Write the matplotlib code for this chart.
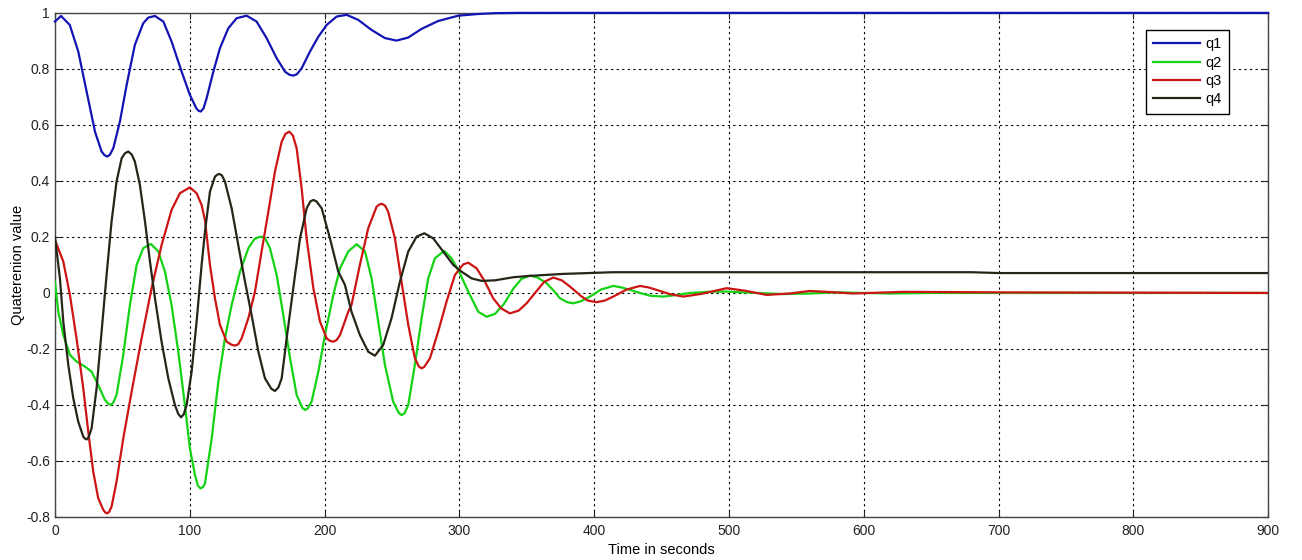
import matplotlib
matplotlib.use("Agg")
import matplotlib.pyplot as plt

# ---- data ----
t1 = [0, 4.5, 11, 17.3, 23.5, 29.7, 34.6, 36.8, 38.8, 40.8, 43.3, 48.2, 53.2, 59.3, 65.5, 69.2, 74.2, 80.4, 86.5,
      94, 100.1, 105, 106.7, 108.3, 110.3, 112.5, 117.5, 122.4, 128.6, 134.8, 142.2, 149.6, 157, 164.5, 170.7,
      174, 176.8, 179.5, 183, 189.2, 195.4, 201.6, 209, 216.4, 225, 234.9, 244.8, 253.4, 262.1, 272, 284.3, 299.2,
      314, 326.4, 345, 900]
q1 = [0.969, 0.989, 0.957, 0.862, 0.719, 0.576, 0.505, 0.492, 0.487, 0.494, 0.517, 0.612, 0.743, 0.886, 0.963,
      0.983, 0.989, 0.969, 0.898, 0.79, 0.707, 0.658, 0.650, 0.648, 0.660, 0.695, 0.79, 0.874, 0.945, 0.981, 0.99,
      0.969, 0.91, 0.838, 0.79, 0.779, 0.776, 0.781, 0.802, 0.862, 0.915, 0.957, 0.987, 0.993, 0.975, 0.939, 0.91,
      0.901, 0.912, 0.943, 0.971, 0.99, 0.996, 0.999, 1.0, 1.0]

t2 = [0, 2.5, 6.2, 11.1, 16, 22.3, 27.2, 32.1, 37.1, 39.5, 41.3, 43.2, 45.7, 50.7, 55.6, 60.6, 65.5, 71.2, 76.7,
      81.6, 86.5, 91.5, 96.4, 100.1, 103.9, 106, 108, 109.8, 111.3, 116.3, 121.2, 126.1, 131.1, 137.3, 143.5, 148,
      151, 153.3, 155.8, 159.5, 164.5, 169.4, 174.4, 179.3, 183.5, 185.5, 187.5, 190.4, 195.4, 200.3, 206.5, 211.5,
      217.6, 223.8, 230, 234.9, 239.8, 244.8, 250.9, 255, 257.1, 259.3, 262.1, 267, 272, 276.9, 281.9, 288.8, 294.2,
      300.4, 306.6, 314, 320.2, 326.4, 333, 340, 346, 352.4, 358, 364.7, 370, 374.6, 380, 384.5, 390, 396.9, 405,
      414.2, 420, 426.5, 434, 441.4, 451.3, 460, 471, 485, 498, 520, 540, 560, 580, 600, 620, 650, 700, 900]
q2 = [0.04, -0.067, -0.15, -0.221, -0.245, -0.263, -0.281, -0.329, -0.382, -0.395, -0.4, -0.392, -0.364, -0.221,
      -0.043, 0.1, 0.16, 0.175, 0.148, 0.076, -0.043, -0.21, -0.4, -0.555, -0.65, -0.688, -0.698, -0.693, -0.68,
      -0.519, -0.317, -0.162, -0.043, 0.076, 0.16, 0.192, 0.199, 0.201, 0.196, 0.16, 0.064, -0.079, -0.233, -0.364,
      -0.41, -0.418, -0.412, -0.388, -0.281, -0.15, -0.007, 0.088, 0.148, 0.174, 0.148, 0.052, -0.102, -0.257,
      -0.388, -0.428, -0.436, -0.43, -0.4, -0.257, -0.09, 0.052, 0.124, 0.15, 0.124, 0.07, 0.005, -0.067, -0.085,
      -0.075, -0.04, 0.015, 0.05, 0.062, 0.055, 0.035, 0.008, -0.019, -0.033, -0.037, -0.03, -0.013, 0.012, 0.025,
      0.02, 0.011, 0.0, -0.01, -0.013, -0.008, 0.0, 0.004, 0.005, 0.0, -0.004, -0.002, 0.002, 0.0, -0.002, 0.0,
      0.0, 0.0]

t3 = [0, 6.2, 11.1, 16, 21, 24.7, 28.4, 32.1, 35.9, 37.4, 38.8, 40.3, 42, 45.7, 50.7, 56.9, 64.3, 71.7, 79.1, 86.5,
      92.7, 100.1, 105.1, 108.8, 111.3, 115, 118.7, 122.4, 127.4, 131, 133.6, 136, 138.5, 143.5, 148.4, 153.3, 158.3,
      163.2, 168.2, 171, 173.9, 176.5, 179.3, 183, 186.7, 191.7, 196.6, 201.6, 204, 206.5, 209, 211.5, 217.6, 220,
      226.2, 232.4, 238.6, 240.7, 242.8, 245, 247.2, 252.2, 257.1, 262.1, 267, 270, 272, 274, 278.2, 284.3, 290.5,
      296.7, 302.9, 306.6, 312.8, 319, 325.1, 331, 337.5, 344, 349.9, 357, 363, 369.7, 376, 382, 390, 395, 401.8,
      408, 414.2, 424, 434, 440, 446.3, 456, 466.1, 480, 498.3, 512, 528, 545, 560, 576, 592, 630, 700, 900]
q3 = [0.189, 0.112, -0.007, -0.162, -0.34, -0.495, -0.638, -0.733, -0.775, -0.784, -0.787, -0.781, -0.763, -0.674,
      -0.519, -0.352, -0.162, 0.017, 0.171, 0.296, 0.356, 0.377, 0.356, 0.314, 0.26, 0.1, -0.019, -0.114, -0.174,
      -0.185, -0.188, -0.183, -0.162, -0.09, 0.005, 0.148, 0.29, 0.433, 0.54, 0.568, 0.576, 0.562, 0.517, 0.374,
      0.195, 0.017, -0.102, -0.162, -0.171, -0.174, -0.168, -0.15, -0.067, -0.043, 0.1, 0.231, 0.308, 0.316, 0.318,
      0.311, 0.29, 0.195, 0.04, -0.114, -0.233, -0.263, -0.269, -0.264, -0.233, -0.138, -0.031, 0.064, 0.102, 0.108,
      0.088, 0.04, -0.019, -0.055, -0.073, -0.063, -0.037, 0.005, 0.04, 0.055, 0.045, 0.023, -0.01, -0.027, -0.033,
      -0.027, -0.013, 0.012, 0.025, 0.02, 0.011, -0.004, -0.013, -0.003, 0.017, 0.008, -0.007, -0.002, 0.007, 0.003,
      -0.002, 0.004, 0.002, 0.0]

t4 = [0, 3.7, 6.2, 9.9, 13.6, 17.3, 21, 22.2, 23.5, 25, 27.2, 30.9, 34.6, 38.3, 42, 45.7, 49.5, 52, 54.4, 57, 59.3,
      63, 66.8, 70.5, 74.2, 79.1, 84.1, 89, 91.5, 93.5, 95.5, 97.7, 101.4, 105.1, 108.8, 111.3, 115, 118.7, 120.3,
      121.9, 123.8, 126.1, 131.1, 136, 141, 145.9, 150.9, 155.8, 160.5, 163.2, 165.7, 168.2, 171.9, 176.8, 181.8,
      186.7, 189.5, 191.7, 194, 197.9, 204, 210.2, 215.1, 220, 226.2, 232.4, 237.4, 243.5, 249.7, 255.9, 262.1,
      268.3, 274, 280.6, 288, 295.5, 301.6, 309.1, 316.5, 326.4, 340, 352.4, 377, 414, 680, 700, 900]
q4 = [0.2, 0.052, -0.102, -0.257, -0.376, -0.46, -0.513, -0.52, -0.523, -0.515, -0.483, -0.34, -0.138, 0.064, 0.255,
      0.398, 0.481, 0.499, 0.505, 0.494, 0.469, 0.386, 0.255, 0.112, -0.019, -0.174, -0.305, -0.4, -0.432, -0.444,
      -0.434, -0.4, -0.281, -0.102, 0.1, 0.219, 0.362, 0.415, 0.422, 0.425, 0.42, 0.398, 0.302, 0.171, 0.04, -0.079,
      -0.21, -0.305, -0.342, -0.35, -0.338, -0.305, -0.162, 0.017, 0.195, 0.302, 0.327, 0.332, 0.327, 0.302, 0.195,
      0.076, 0.029, -0.067, -0.15, -0.21, -0.224, -0.186, -0.09, 0.04, 0.148, 0.201, 0.213, 0.195, 0.148, 0.1,
      0.076, 0.052, 0.043, 0.045, 0.056, 0.061, 0.068, 0.074, 0.074, 0.071, 0.071]

labels = ["q1", "q2", "q3", "q4"]
xticks = [0, 100, 200, 300, 400, 500, 600, 700, 800, 900]
yticks = [-0.8, -0.6, -0.4, -0.2, 0, 0.2, 0.4, 0.6, 0.8, 1]
ytick_labels = ['-0.8', '-0.6', '-0.4', '-0.2', '0', '0.2', '0.4', '0.6', '0.8', '1']

plt.rcParams['font.family'] = ['Liberation Sans', 'DejaVu Sans']

fig = plt.figure(figsize=(13.02, 5.6), dpi=100)
ax = fig.add_axes([0.0422, 0.0768, 0.9318, 0.9002])

colors = ['#1414b4', '#14d214', '#cc1414', '#262618']
ax.plot(t1, q1, color=colors[0], lw=1.6, label=labels[0], clip_on=False, zorder=3)
ax.plot(t2, q2, color=colors[1], lw=1.6, label=labels[1], zorder=3)
ax.plot(t3, q3, color=colors[2], lw=1.6, label=labels[2], zorder=3)
ax.plot(t4, q4, color=colors[3], lw=1.6, label=labels[3], zorder=3)

ax.set_xlim(0, 900)
ax.set_ylim(-0.8, 1)
ax.set_xticks(xticks)
ax.set_xticklabels([str(v) for v in xticks])
ax.set_yticks(yticks)
ax.set_yticklabels(ytick_labels)
ax.grid(True, color='black', linestyle=(0, (2, 3)), linewidth=0.8)
ax.set_axisbelow(True)
ax.tick_params(direction='in', length=4, top=True, right=True, labelsize=10, colors='#222222')
ax.tick_params(axis='x', pad=5)
for sp in ax.spines.values():
    sp.set_color('#444444')
    sp.set_linewidth(1.0)

ax.set_xlabel('Time in seconds', fontsize=10.5, labelpad=4)
ax.set_ylabel('Quaterenion value', fontsize=10.5, labelpad=1)

leg = ax.legend(loc='upper right', bbox_to_anchor=(0.968, 0.966), borderaxespad=0,
                fancybox=False, framealpha=1, edgecolor='black', fontsize=10.5,
                handlelength=3.2, handletextpad=0.4, labelspacing=0.3, borderpad=0.5)
leg.get_frame().set_linewidth(1.0)

fig.savefig('out.png', dpi=100)
